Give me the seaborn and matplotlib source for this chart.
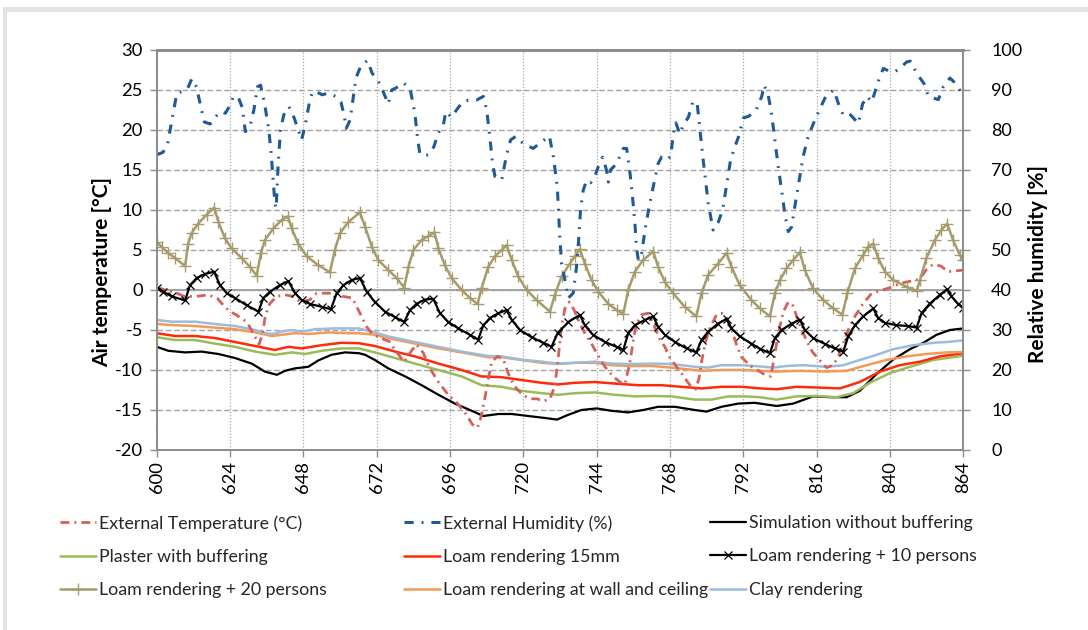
import numpy as np
import matplotlib
matplotlib.use("Agg")
import matplotlib.pyplot as plt
from matplotlib.patches import Rectangle
import seaborn as sns

# ---------------- data (hours of simulation, values) ----------------
hours_ext_temp = [600, 603, 606, 609, 613, 617, 620, 622, 624, 626, 629.5, 631.6, 633.5, 634.7, 635.5,
                  637, 639.3, 642, 644.7, 647, 650, 652.4, 656, 658, 661, 664, 666, 668.7, 670.4, 673,
                  676, 678, 681, 683, 685, 687.3, 689.4, 692.2, 695.4, 698.5, 701.4, 703.3, 705, 706.2,
                  707.4, 708.5, 709.6, 711.5, 713.4, 715, 717, 720, 722.5, 724.5, 726.5, 728.7, 730.3,
                  731.4, 732.5, 733.6, 735, 736.6, 738.5, 740.1, 742.3, 744, 746.7, 749.4, 751.6, 753.2,
                  754.8, 756, 757, 758.7, 760.8, 762.5, 764.4, 766.3, 768, 771.7, 774.5, 776.4, 777.5,
                  778.3, 779.6, 781, 783.2, 784.9, 786.5, 788.2, 789.8, 791.4, 794.3, 797, 799, 801,
                  802.3, 803.4, 805.1, 806.7, 808.3, 810, 812.3, 814.5, 817, 819.2, 821.4, 823.1, 824.7,
                  826.3, 828.5, 831, 834, 837.5, 840, 844, 848.7, 850.3, 852, 854.1, 856.6, 859, 861.8, 864]
ext_temp = [0.3, 0.0, -0.3, -0.8, -0.8, -0.6, -1.1, -2.0, -2.7, -3.1, -4.0, -5.4, -6.8, -5.4, -3.3,
            -1.7, -0.8, -0.6, -0.8, -1.5, -1.25, -0.4, -0.4, -0.4, -0.8, -1.0, -2.5, -4.6, -5.4, -6.0,
            -6.4, -7.5, -9.0, -7.8, -6.8, -7.9, -9.8, -11.5, -13.1, -14.2, -15.6, -16.8, -17.2, -15.8,
            -13.5, -11.2, -9.0, -8.3, -8.6, -10.4, -12.0, -13.2, -13.6, -13.6, -13.9, -13.6, -12.0,
            -8.5, -4.5, -2.3, -1.5, -2.5, -4.2, -5.4, -6.7, -7.9, -9.6, -10.8, -11.5, -11.8,
            -9.2, -6.25, -4.2, -3.1, -2.9, -4.2, -6.0, -7.1, -8.5, -10.4, -11.9, -12.4, -11.0,
            -9.0, -6.5, -4.8, -3.1, -2.9, -3.5, -5.0, -6.9, -8.4, -9.5, -10.1, -10.6, -10.8,
            -8.0, -5.4, -2.7, -1.5, -2.0, -4.0, -6.0, -7.7, -8.8, -9.7, -9.4, -8.3, -6.7,
            -5.0, -3.3, -1.8, -0.4, 0.0, 0.3, 0.9, 1.25, 1.7, 2.6, 3.2, 3.0, 2.3, 2.4, 2.5]

hours_humidity = [600, 602, 603.5, 605, 606.6, 608.2, 610, 611.5, 613, 614.8, 615.6, 617.5, 619.2, 620.8,
                  622.5, 624, 625.2, 626.8, 628, 629, 630.5, 631.8, 633, 634, 635.3, 636.7, 637.5, 638.1,
                  638.7, 639.1, 639.7, 640.5, 641.6, 643.3, 645, 646.7, 647.4, 648.5, 650, 651, 652.6,
                  654.2, 655.9, 658.6, 660.3, 661.4, 662, 663.3, 664.1, 665.2, 666.8, 669, 670.5, 672.4,
                  674.1, 675.8, 676.9, 678.5, 680.7, 682.9, 684.5, 685.3, 686.1, 687.2, 688.9, 690.7,
                  692.1, 693.8, 694.6, 696.5, 698.1, 700.3, 702.5, 704.7, 706.9, 708, 709, 709.9, 710.7,
                  712.9, 714.5, 715.8, 717.5, 719.4, 721, 723.2, 725.9, 728.5, 729.8, 731.1, 731.9, 732.5,
                  733.6, 734.7, 736.3, 737.4, 738, 738.7, 739.6, 740.7, 742, 743.4, 744.5, 745.9, 747.2,
                  747.8, 748.5, 750.5, 752.7, 753.8, 754.9, 755.7, 756.5, 757, 757.6, 758.5, 759.8, 761.2,
                  762.7, 764.1, 765.2, 766.9, 768.2, 769.1, 769.9, 771.2, 772.3, 774, 775.5, 776.9, 777.8,
                  778.7, 779.6, 780.5, 781.4, 782.1, 783.8, 785.2, 786.5, 787.8, 789.2, 790.5, 792, 793.9,
                  796.3, 798, 798.8, 800.1, 801.2, 802.3, 803.4, 804.5, 805.6, 806.7, 807.8, 808.9, 810.3,
                  811.6, 813.2, 814.9, 817.1, 819.2, 821.6, 823.1, 824.5, 826.3, 828, 829.6, 831, 832.5,
                  834, 835.4, 836.5, 837.8, 839.4, 841.6, 843.2, 845.4, 846.7, 848.7, 851.1, 852.5, 854.1,
                  855.8, 857.4, 859.6, 861.2, 862.6, 864]
humidity = [73.8, 74.4, 76.2, 82.6, 89.2, 89.6, 90.2, 92.8, 90.8, 84.6, 82.0, 81.5, 83.2, 84.6,
            84.2, 86.2, 88.5, 88.0, 85.6, 79.6, 80.8, 85.0, 90.8, 91.2, 86.6, 80.0, 73.8, 67.5,
            61.6, 60.4, 70.8, 80.0, 83.8, 85.8, 83.0, 79.2, 77.5, 80.8, 87.0, 89.6, 89.4,
            88.8, 89.2, 88.4, 87.0, 83.4, 80.4, 82.5, 87.0, 93.0, 96.0, 97.4, 94.2, 92.4,
            89.6, 86.5, 90.0, 90.6, 91.8, 90.4, 84.2, 78.4, 74.2, 73.5, 73.8, 75.8,
            79.2, 81.2, 84.6, 83.2, 85.0, 87.2, 87.5, 87.5, 88.4, 85.0, 78.4, 71.6, 68.4,
            67.5, 73.8, 77.5, 78.4, 77.0, 76.2, 75.4, 77.0, 78.5, 73.4, 65.8, 53.4, 46.6,
            42.5, 38.0, 39.2, 45.8, 51.6, 60.0, 65.0, 67.4, 66.8, 68.4, 70.8, 73.2, 70.0,
            67.0, 70.0, 71.6, 75.4, 75.4, 69.2, 63.4, 56.6, 50.8, 47.5, 48.0, 55.0, 61.0,
            66.6, 71.6, 73.2, 72.5, 73.4, 79.2, 81.8, 79.0, 81.2, 83.2, 87.2, 86.5, 80.0,
            73.4, 67.5, 61.6, 57.9, 55.0, 57.0, 60.0, 66.2, 72.5, 75.8, 78.5, 83.0, 83.5,
            85.2, 88.4, 91.2, 88.8, 84.2, 77.5, 70.8, 65.0, 58.8, 54.6, 55.8, 61.2, 67.5,
            73.5, 78.4, 81.6, 85.4, 88.8, 90.0, 86.6, 84.0, 84.4, 83.0, 81.6, 86.5, 88.4,
            87.0, 90.4, 93.0, 95.4, 94.8, 94.6, 95.4, 97.0, 97.2, 94.2, 91.6, 88.5, 88.0,
            87.6, 90.8, 93.0, 91.8, 90.2, 88.4]

hours_no_buffer = [600, 603.8, 609.3, 614.7, 620.2, 625.6, 631.1, 635.4, 639.3, 642, 645.2, 649.6, 652.9,
                   657.2, 661.6, 666.2, 668.2, 671.4, 675.8, 681.3, 686.7, 692.2, 697.6, 703.1, 706.9,
                   711.8, 716.2, 721.6, 727.1, 731, 734.7, 739, 744, 748.8, 754.3, 759.2, 764.1, 769.6,
                   776.1, 779.9, 784.8, 790.3, 795.7, 802.9, 808.3, 814.8, 820.3, 825.8, 830.1, 835.6,
                   841, 846.5, 850.9, 855.2, 859.6, 864]
no_buffer = [-7.1, -7.6, -7.8, -7.7, -8.0, -8.5, -9.2, -10.2, -10.6, -10.1, -9.8, -9.6, -8.8,
             -8.1, -7.8, -7.9, -8.1, -8.75, -9.8, -10.8, -11.9, -13.1, -14.2, -15.1, -15.75,
             -15.5, -15.5, -15.75, -16.0, -16.2, -15.6, -15.0, -14.8, -15.1, -15.3, -15.0, -14.6, -14.6,
             -15.0, -15.2, -14.6, -14.2, -14.1, -14.5, -14.2, -13.3, -13.4, -13.4, -12.6, -10.5,
             -8.7, -7.4, -6.6, -5.6, -5.0, -4.8]

hours_plaster = [600, 606, 612.5, 619, 625.6, 632.2, 638.7, 644.2, 648.5, 654, 660.5, 666.2, 671.4, 678,
                 684.5, 692.2, 699.8, 706.3, 712.9, 719.4, 726, 731.4, 736.8, 743.4, 750, 756.5, 763,
                 768.5, 776.1, 781.6, 787, 792.5, 797.4, 802.9, 809.4, 815.9, 822.5, 827.9, 833.4,
                 839.9, 846.5, 854.1, 864]
plaster = [-5.9, -6.25, -6.25, -6.7, -7.1, -7.7, -8.1, -7.8, -8.0, -7.6, -7.3, -7.3, -7.8, -8.5,
           -9.2, -10.0, -10.8, -11.9, -12.1, -12.6, -12.9, -13.1, -12.9, -12.8, -13.1, -13.3, -13.25,
           -13.3, -13.7, -13.7, -13.3, -13.3, -13.4, -13.7, -13.3, -13.25, -13.4, -12.9, -11.6,
           -10.4, -9.6, -8.75, -8.2]

hours_loam15 = [600, 606, 612.5, 619, 625.6, 632.2, 638.7, 643.1, 647.4, 654, 660.5, 666.2, 671.4, 678,
                684.5, 692.2, 699.8, 706.3, 712.9, 719.4, 726, 731.4, 736.8, 743.4, 750, 757.6, 765.2,
                771.7, 778.3, 784.8, 791.4, 797.4, 802.9, 809.4, 817, 823.6, 830.1, 836.7, 843.2,
                849.8, 856.3, 864]
loam15 = [-5.4, -5.75, -5.75, -6.0, -6.5, -7.0, -7.5, -7.1, -7.3, -6.9, -6.6, -6.65, -7.0, -7.7,
          -8.3, -9.2, -10.0, -10.8, -10.9, -11.25, -11.6, -11.8, -11.6, -11.5, -11.7, -11.9, -11.9,
          -12.1, -12.3, -12.1, -12.1, -12.3, -12.4, -12.1, -12.2, -12.3, -11.5, -10.2, -9.4,
          -8.96, -8.3, -7.9]

hours_10p = [600, 602.2, 604.9, 609.3, 610.9, 613.1, 615.8, 618.8, 620.7, 622.9, 625.6, 629.4, 633.3,
             634.9, 637.1, 640.3, 643.1, 645.3, 647.4, 650.2, 654, 657, 658.9, 661.1, 663.8, 666.5,
             668.7, 671.4, 674.7, 678, 681, 682.9, 685.1, 687.8, 690.5, 692.7, 695.4, 698.7, 702.5,
             705.2, 706.9, 709.1, 711.8, 714.5, 716.2, 718.9, 722.7, 726.5, 729.2, 731.2, 734.7,
             738.5, 740.1, 742.8, 746.7, 750.5, 752.7, 754.3, 756.5, 759.7, 762.5, 764.1, 766.3,
             769.6, 773.4, 776.6, 778.3, 780.5, 783.7, 786.5, 788.1, 790.8, 794.6, 797.4, 800.7,
             802.3, 804.5, 807.8, 810.5, 812.1, 814.8, 818.7, 821.9, 824.7, 826.3, 828.5, 831.2,
             834.5, 836.1, 838.3, 842.1, 845.9, 848.7, 850.3, 853, 856.3, 858.7, 860.1, 862.3, 864]
loam_10p = [0.3, -0.2, -0.8, -1.3, 0.6, 1.5, 2.0, 2.3, 0.6, -0.4, -1.0, -1.9, -2.7,
            -1.0, -0.2, 0.6, 1.1, -0.4, -1.25, -1.75, -2.1, -2.4, -0.4, 0.6, 1.25, 1.5,
            -0.2, -1.5, -2.7, -3.4, -4.0, -2.5, -1.7, -1.2, -1.1, -2.9, -4.0, -4.8, -5.6,
            -6.2, -4.4, -3.5, -2.9, -2.5, -3.75, -5.0, -5.9, -6.6, -7.1, -5.4, -4.0,
            -3.1, -4.4, -5.6, -6.5, -7.1, -7.5, -5.4, -4.4, -3.75, -3.3, -4.6, -5.6,
            -6.5, -7.3, -7.8, -6.25, -5.2, -4.2, -3.6, -4.8, -5.8, -6.7, -7.35, -7.9,
            -6.0, -5.0, -4.2, -3.7, -5.0, -6.0, -6.75, -7.3, -7.7, -5.8, -4.4, -3.3,
            -2.3, -3.5, -4.1, -4.4, -4.5, -4.7, -2.9, -1.7, -0.6, 0.1, -0.8, -1.75, -2.2]

hours_20p = [600, 601.6, 603.8, 606, 609.3, 610.3, 611.4, 613.6, 616.3, 618.8, 620.2, 622.3, 624.5,
             627.8, 630.5, 632.7, 634.1, 635.4, 638.2, 640.9, 642.9, 644.2, 646.3, 649.1, 652.9,
             656.7, 658.3, 660, 662.7, 666.5, 668.2, 670.4, 672.5, 675.8, 678.5, 681, 682.4, 684,
             686.7, 688.9, 690.9, 692.2, 694.3, 696.5, 699.8, 702.5, 705, 706.3, 708.5, 710.7,
             712.9, 714.5, 716.2, 718.3, 721.1, 724.3, 728.7, 730.3, 732.5, 735.2, 736.8, 738.5,
             740.1, 742.3, 744.5, 747.7, 750.5, 752.7, 754.3, 756.5, 759.2, 762.5, 764.1, 766.3,
             769, 772.8, 776.6, 778.3, 780.5, 783.7, 786.5, 788.1, 790.8, 794.6, 797.4, 800.7,
             802.3, 804, 806.1, 808.3, 810.5, 812.1, 814.8, 818.1, 821.4, 824.4, 826, 828.5, 831.2,
             832.8, 834.5, 836.1, 838.3, 841, 845.4, 848.7, 849.8, 851.9, 854.7, 856.8, 858.7,
             860.6, 862.8, 864]
loam_20p = [6.0, 5.4, 4.6, 4.0, 3.0, 5.8, 7.1, 8.3, 9.4, 10.3, 8.5, 6.5, 5.2,
            4.0, 2.9, 1.8, 4.6, 6.25, 7.7, 8.75, 9.2, 7.7, 5.8, 4.2, 3.1,
            2.2, 5.0, 7.1, 8.5, 9.7, 7.9, 5.4, 3.75, 2.5, 1.5, 0.3, 2.9, 5.0,
            6.25, 6.75, 7.2, 5.2, 3.1, 1.5, 0.0, -1.0, -1.75, 0.2, 2.9, 4.2,
            5.0, 5.6, 3.75, 1.7, 0.0, -1.25, -2.7, -0.6, 1.7, 3.3, 4.2, 5.1,
            3.3, 1.25, -0.2, -1.7, -2.5, -3.0, 0.0, 2.3, 3.75, 4.8, 2.9, 1.0,
            -0.4, -2.1, -3.3, -0.4, 1.9, 3.3, 4.6, 2.9, 0.6, -1.25, -2.3, -3.3,
            -0.4, 1.25, 2.7, 3.75, 4.7, 2.5, 0.2, -1.25, -2.3, -3.1, -0.4, 2.7, 4.4,
            5.4, 5.8, 4.0, 2.3, 1.25, 0.4, -0.1, 1.25, 4.0, 6.25, 7.5, 8.3,
            6.25, 4.4, 3.7]

hours_wall_ceiling = [600, 606, 612.5, 619, 625.6, 632.2, 637.6, 640.9, 645.2, 649.6, 656.2, 662.7, 666.2,
                      671.4, 678, 684.5, 692.2, 699.8, 708.5, 712.9, 719.4, 726, 731.4, 736.8, 743.4,
                      748.8, 755.4, 761.9, 768.5, 778.3, 784.8, 791.4, 797.4, 802.9, 810.5, 819.2, 825.8,
                      832.3, 838.8, 845.4, 851.9, 858.5, 864]
wall_ceiling = [-4.25, -4.4, -4.5, -4.7, -4.9, -5.3, -5.75, -5.6, -5.4, -5.5, -5.3, -5.4, -5.4,
                -5.6, -6.2, -6.7, -7.3, -7.8, -8.4, -8.4, -8.75, -9.1, -9.25, -9.1, -9.1,
                -9.4, -9.5, -9.5, -9.7, -10.1, -10.0, -10.0, -10.1, -10.2, -10.1, -10.2, -10.1,
                -9.4, -8.75, -8.3, -8.0, -7.8, -7.75]

hours_clay = [600, 605, 612.5, 619, 625.6, 632.2, 635.4, 638.2, 640.9, 644.2, 647.4, 651.8, 658.3, 666,
              670.4, 675.8, 684.5, 692.2, 699.8, 708.5, 712.9, 719.4, 726, 731.4, 736.8, 743.4, 748.8,
              755.4, 761.9, 768.5, 776.1, 780.5, 784.8, 791.4, 797.4, 801.8, 806.1, 811.6, 819.2,
              824.7, 830.1, 835.6, 841, 847.6, 854.1, 858.5, 864]
clay = [-3.75, -3.96, -3.96, -4.25, -4.5, -5.0, -5.4, -5.5, -5.2, -5.0, -5.2, -4.9, -4.8, -4.8,
        -5.2, -5.8, -6.5, -7.1, -7.7, -8.25, -8.3, -8.7, -8.96, -9.2, -9.1, -8.96, -9.2,
        -9.25, -9.2, -9.25, -9.6, -9.7, -9.4, -9.4, -9.55, -9.7, -9.5, -9.4, -9.6,
        -9.4, -8.75, -8.1, -7.4, -6.9, -6.6, -6.5, -6.3]

x_ticks = list(range(600, 865, 24))
temp_ticks = list(range(-20, 31, 5))
hum_ticks = list(range(0, 101, 10))

# ---------------- styling ----------------
sns.set_theme(style="white")
plt.rcParams['font.family'] = ['Lato', 'DejaVu Sans']
plt.rcParams['axes.unicode_minus'] = False

W, H = 1088, 630
fig = plt.figure(figsize=(W / 100, H / 100), dpi=100)
fig.patch.set_facecolor("white")
# light frame around the figure
fig.patches.append(Rectangle((3 / W, 1 - 12 / H), 1, 5 / H, transform=fig.transFigure,
                             facecolor="#e3e3df", edgecolor="none", zorder=0))
fig.patches.append(Rectangle((3 / W, 0), 4 / W, 1 - 7 / H, transform=fig.transFigure,
                             facecolor="#e3e3df", edgecolor="none", zorder=0))

x0, x1, ytop, ybot = 156.7, 963.4, 50, 450
ax = fig.add_axes([x0 / W, 1 - ybot / H, (x1 - x0) / W, (ybot - ytop) / H])
ax2 = ax.twinx()

grid_col = "#a3a3a3"
ax.set_axisbelow(True)
ax.grid(axis="y", linestyle=(0, (4, 2)), color=grid_col, lw=1.0)
ax.grid(axis="x", linestyle=(0, (1, 1.5)), color="#a8a8a8", lw=0.9)
ax.axhline(0, color="#9a9a9a", lw=1.3, zorder=0.5)

def draw(a, hx, vals, **kw):
    sns.lineplot(x=np.asarray(hx, dtype=float), y=np.asarray(vals, dtype=float), ax=a,
                 legend=False, errorbar=None, sort=False, **kw)

draw(ax, hours_no_buffer, no_buffer, color="black", lw=1.6, label="Simulation without buffering")
draw(ax, hours_plaster, plaster, color="#9bbb59", lw=1.8, label="Plaster with buffering")
draw(ax, hours_loam15, loam15, color="#ff2a0a", lw=1.8, label="Loam rendering 15mm")
draw(ax, hours_wall_ceiling, wall_ceiling, color="#f39a56", lw=1.8,
     label="Loam rendering at wall and ceiling")
draw(ax, hours_clay, clay, color="#9dbbdd", lw=1.8, label="Clay rendering")
draw(ax, hours_ext_temp, ext_temp, color="#d4625a", lw=2.0, linestyle=(0, (3.2, 1.8, 0.7, 1.8)),
     label="External Temperature (°C)")
draw(ax, hours_20p, loam_20p, color="#a69b6c", lw=1.8, marker="+", markersize=8,
     mec="#a69b6c", mew=1.0, label="Loam rendering + 20 persons")
draw(ax, hours_10p, loam_10p, color="black", lw=1.6, marker="x", markersize=5.5,
     mec="black", mew=0.9, label="Loam rendering + 10 persons")
draw(ax2, hours_humidity, humidity, color="#1f5a96", lw=2.2, linestyle=(0, (3.0, 2.6, 0.6, 2.6)),
     label="External Humidity (%)")

ax.set_xlim(600, 864)
ax.set_ylim(-20, 30)
ax2.set_ylim(0, 100)
ax.set_xticks(x_ticks)
ax.set_xticklabels([str(t) for t in x_ticks], rotation=90)
ax.set_yticks(temp_ticks)
ax.set_yticklabels([str(t) for t in temp_ticks])
ax2.set_yticks(hum_ticks)
ax2.set_yticklabels([str(t) for t in hum_ticks])
ax2.grid(False)

spine_col = "#8c8c8c"
for a in (ax, ax2):
    for s in a.spines.values():
        s.set_color(spine_col)
        s.set_linewidth(1.2)
    a.spines["top"].set_linewidth(2.0)
ax.tick_params(axis="both", which="major", direction="out", length=5, width=1, color=spine_col,
               labelsize=13.2, labelcolor="black", left=True, bottom=True)
ax.tick_params(axis="y", pad=5)
ax.tick_params(axis="x", pad=3)
ax2.tick_params(axis="y", direction="out", length=5, width=1, color=spine_col, labelsize=13,
                labelcolor="black", right=True, pad=15)

ax.set_xlabel("")
ax.set_ylabel("Air temperature [°C]", fontsize=15, fontweight="bold", color="black")
ax2.set_ylabel("Relative humidity [%]", fontsize=15, fontweight="bold", color="black")
ax.yaxis.set_label_coords(-0.055, 0.445)
ax2.yaxis.set_label_coords(1.08, 0.465)

# ---------------- legend: three columns ----------------
lines = {l.get_label(): l for l in ax.get_lines() + ax2.get_lines()}
columns = [
    (60, ["External Temperature (°C)", "Plaster with buffering", "Loam rendering + 20 persons"]),
    (404, ["External Humidity (%)", "Loam rendering 15mm", "Loam rendering at wall and ceiling"]),
    (710, ["Simulation without buffering", "Loam rendering + 10 persons", "Clay rendering"]),
]
for xpx, labels in columns:
    fig.legend([lines[k] for k in labels], labels, loc="upper left",
               bbox_to_anchor=(xpx / W, 1 - 515 / H), frameon=False, fontsize=12.8,
               handlelength=2.05, handletextpad=0.15, labelspacing=0.98, borderpad=0,
               borderaxespad=0, numpoints=1)

fig.savefig("out.png", dpi=100)
